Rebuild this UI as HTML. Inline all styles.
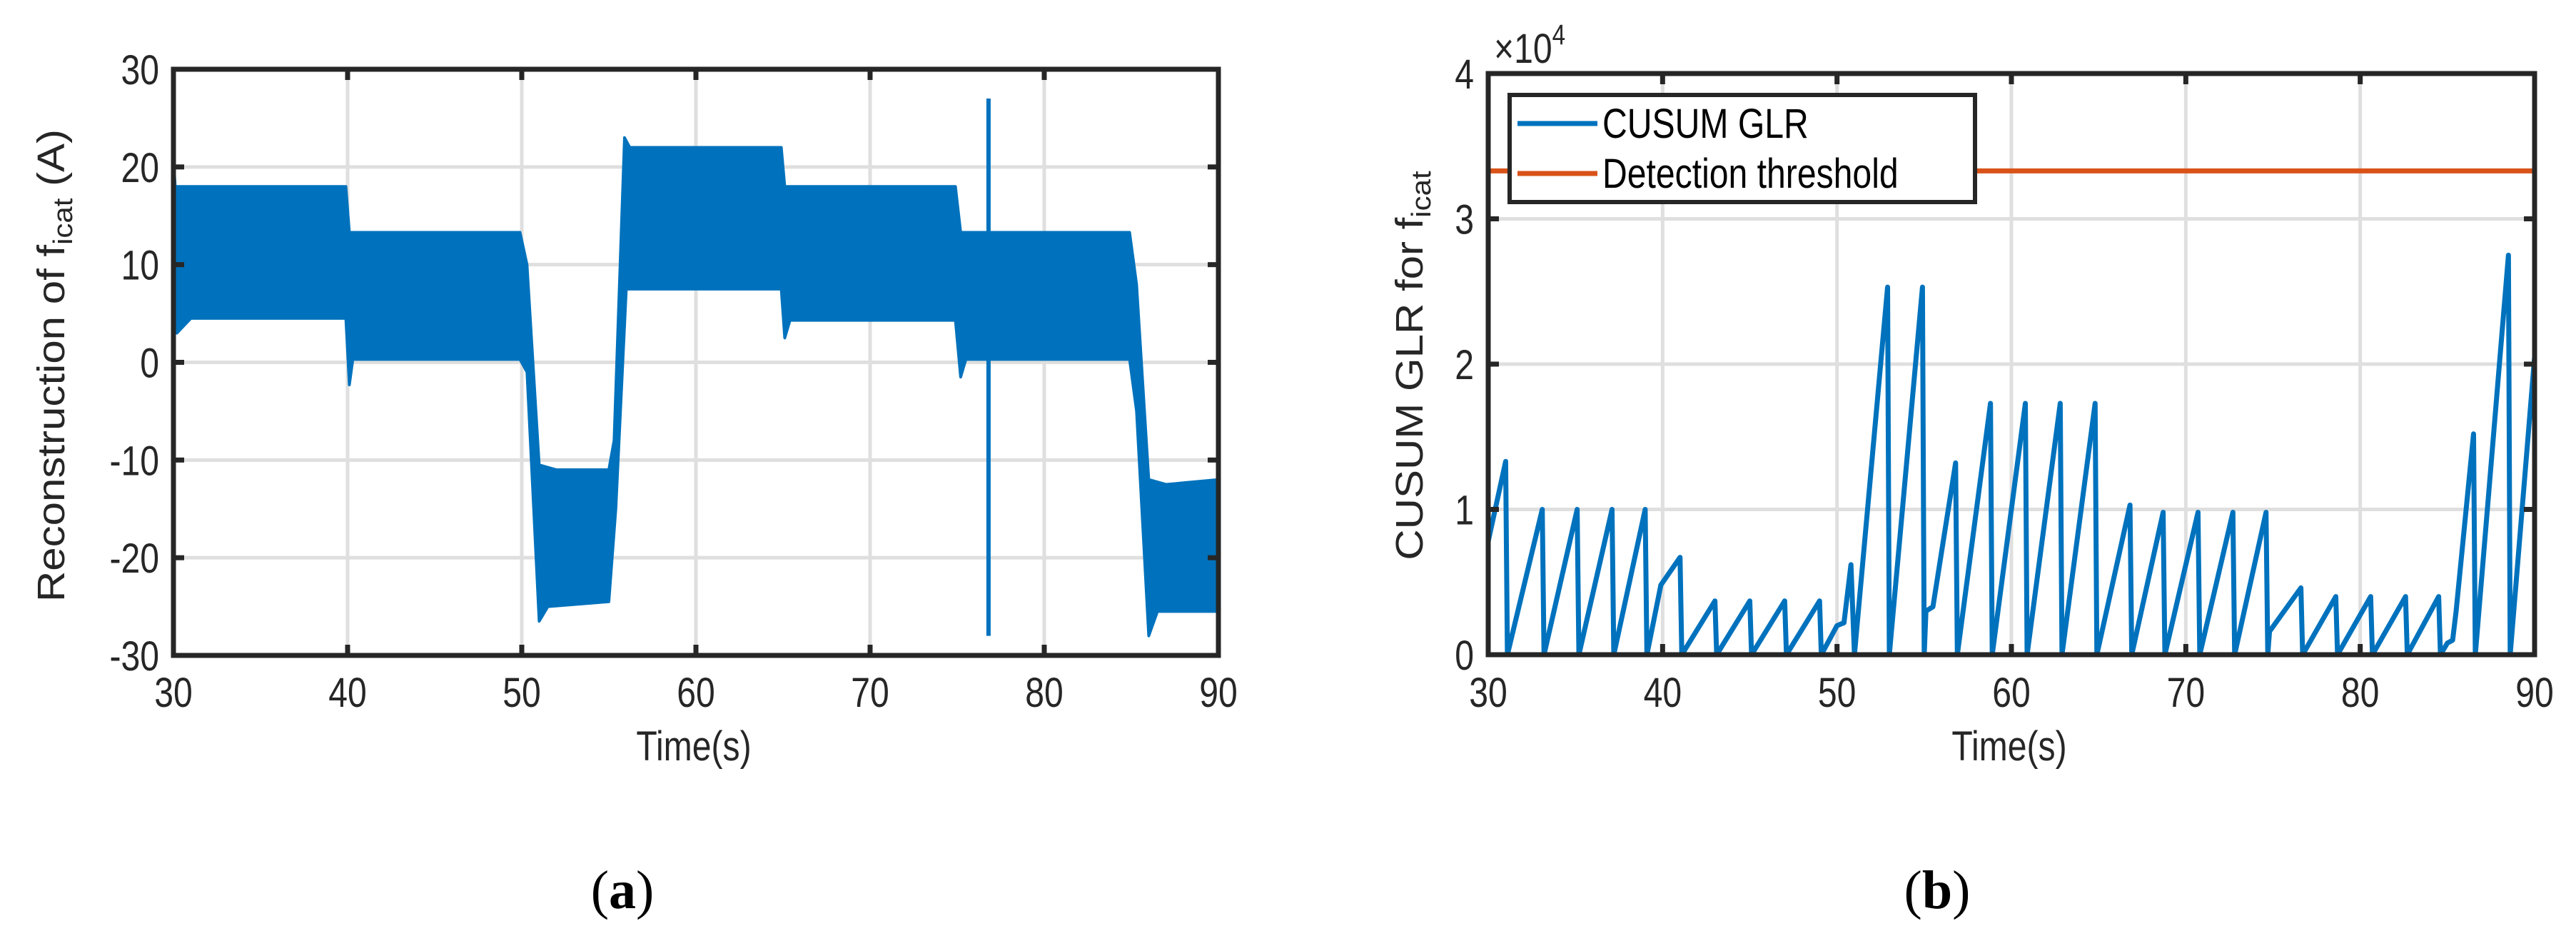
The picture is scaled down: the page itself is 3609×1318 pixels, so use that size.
<!DOCTYPE html>
<html><head><meta charset="utf-8"><style>
html,body{margin:0;padding:0;background:#fff}
svg{display:block}
text{font-family:"Liberation Sans",Arial,sans-serif;fill:#262626}
</style></head><body>
<svg id="fig" width="3609" height="1318" viewBox="0 0 3609 1318" xmlns="http://www.w3.org/2000/svg">
<g id="chartA"></g>
<g id="chartB"></g>
<text x="872" y="1272" font-family="Liberation Serif, serif" font-size="76" text-anchor="middle" style="font-family:'Liberation Serif',serif;fill:#000">(<tspan font-weight="bold">a</tspan>)</text>
<text x="2714" y="1272" font-size="76" text-anchor="middle" style="font-family:'Liberation Serif',serif;fill:#000">(<tspan font-weight="bold">b</tspan>)</text>
</svg>
<script>
// ---- Chart A data ----
const xTicks = [30,40,50,60,70,80,90];
const aYTicks = [-30,-20,-10,0,10,20,30];
const upperT = [30,30.1,39.9,40.1,49.9,50.3,51,52,55,55.3,55.9,56.2,64.9,65.1,74.9,75.2,84.9,85.3,86,87,90];
const upperV = [21,18,18,13.3,13.3,10,-10.5,-11,-11,-8,23,22,22,18,18,13.3,13.3,8,-12,-12.5,-12];
const lowerT = [30,30.2,31,39.9,40.1,40.3,49.9,50.3,51,51.5,55,55.4,56,56.2,64.9,65.1,65.4,74.9,75.2,75.5,84.9,85.3,86,86.5,90];
const lowerV = [3,3,4.5,4.5,-2.3,0.3,0.3,-1,-26.5,-25,-24.5,-15,7.5,7.5,7.5,2.5,4.3,4.3,-1.5,0.3,0.3,-5,-28,-25.5,-25.5];
const spikeT = [76.8];
const spikeTop = [27];
const spikeBot = [-28];
// ---- Chart B data ----
const bYTicks = [0,1,2,3,4];
const glrT = [30,31,31.1,33.1,33.2,35.1,35.2,37.1,37.2,39,39.1,39.9,41,41.1,43,43.1,45,45.1,47,47.1,49,49.1,50,50.4,50.8,51,52.9,53,54.9,55,55.1,55.5,56.8,56.9,58.8,58.9,60.8,60.9,62.8,62.9,64.8,64.9,66.8,66.9,68.7,68.8,70.7,70.8,72.7,72.8,74.6,74.7,74.8,76.6,76.7,78.6,78.7,80.6,80.7,82.6,82.7,84.5,84.6,85,85.3,85.5,86.5,86.6,88.5,88.6,90];
const glrV = [0.78,1.33,0,1.0,0,1.0,0,1.0,0,1.0,0,0.48,0.67,0,0.37,0,0.37,0,0.37,0,0.37,0,0.2,0.22,0.62,0,2.53,0,2.53,0,0.3,0.33,1.32,0,1.73,0,1.73,0,1.73,0,1.73,0,1.03,0,0.98,0,0.98,0,0.98,0,0.98,0,0.16,0.46,0,0.4,0,0.4,0,0.4,0,0.4,0,0.08,0.1,0.3,1.52,0,2.75,0,2.05];
const threshold = [3.33];

const NS='http://www.w3.org/2000/svg';
function mk(parent,tag,attrs,txt){const e=document.createElementNS(NS,tag);for(const k in attrs)e.setAttribute(k,attrs[k]);if(txt!==undefined)e.textContent=txt;parent.appendChild(e);return e;}
const AX='#262626', GRID='#dfdfdf', BLUE='#0072bd', ORANGE='#d95319';

function axes(g,L,T,R,B,xmin,xmax,ymin,ymax,yt,ytLabels){
  const sx=v=>L+(v-xmin)/(xmax-xmin)*(R-L);
  const sy=v=>B-(v-ymin)/(ymax-ymin)*(B-T);
  xTicks.forEach(v=>{const l=mk(g,'line',{x1:sx(v),x2:sx(v),y1:T,y2:B,stroke:GRID,'stroke-width':5});
    
    });
  yt.forEach(v=>{const l=mk(g,'line',{x1:L,x2:R,y1:sy(v),y2:sy(v),stroke:GRID,'stroke-width':5});
    
    });
  return {sx,sy};
}
function frame(g,L,T,R,B,sx,sy,yt,ytLabels){
  mk(g,'rect',{x:L,y:T,width:R-L,height:B-T,fill:'none',stroke:AX,'stroke-width':7});
  xTicks.forEach(v=>{
    mk(g,'line',{x1:sx(v),x2:sx(v),y1:B,y2:B-15,stroke:AX,'stroke-width':7});
    mk(g,'line',{x1:sx(v),x2:sx(v),y1:T,y2:T+15,stroke:AX,'stroke-width':7});
    const t=mk(g,'text',{transform:`translate(${sx(v)},990) scale(0.83,1)`,'font-size':58,'text-anchor':'middle'},String(v));
    
    
  });
  yt.forEach((v,i)=>{
    mk(g,'line',{x1:L,x2:L+15,y1:sy(v),y2:sy(v),stroke:AX,'stroke-width':7});
    mk(g,'line',{x1:R,x2:R-15,y1:sy(v),y2:sy(v),stroke:AX,'stroke-width':7});
    const t=mk(g,'text',{transform:`translate(${L-20},${sy(v)+21}) scale(0.83,1)`,'font-size':58,'text-anchor':'end'},ytLabels[i]);
    
    
  });
}

// Chart A
(function(){
  const g=document.getElementById('chartA');
  const L=243,T=97,R=1707,B=918;
  const {sx,sy}=axes(g,L,T,R,B,30,90,-30,30,aYTicks);
  let d='M'+upperT.map((t,i)=>sx(t)+','+sy(upperV[i])).join(' L');
  for(let i=lowerT.length-1;i>=0;i--) d+=' L'+sx(lowerT[i])+','+sy(lowerV[i]);
  d+=' Z';
  const band=mk(g,'path',{d:d,fill:BLUE,stroke:BLUE,'stroke-width':4,'stroke-linejoin':'round'});
  
  
  spikeT.forEach((t,i)=>{const s=mk(g,'line',{x1:sx(t),x2:sx(t),y1:sy(spikeTop[i]),y2:sy(spikeBot[i]),stroke:BLUE,'stroke-width':6});
    
    });
  frame(g,L,T,R,B,sx,sy,aYTicks,aYTicks.map(String));
  const yl=mk(g,'text',{transform:'translate(90,512) rotate(-90) scale(1,0.9)','font-size':60,'text-anchor':'middle'});
  yl.innerHTML='Reconstruction of f<tspan font-size="42" dy="12">icat</tspan><tspan dy="-12"> (A)</tspan>';
  
  
  const xl=mk(g,'text',{transform:'translate(972,1065) scale(0.83,1)','font-size':58,'text-anchor':'middle'},'Time(s)');
  
  
})();

// Chart B
(function(){
  const g=document.getElementById('chartB');
  const L=2085,T=103,R=3551,B=917;
  const {sx,sy}=axes(g,L,T,R,B,30,90,0,4,bYTicks);
  const th=mk(g,'line',{x1:L,x2:R,y1:sy(threshold[0]),y2:sy(threshold[0]),stroke:ORANGE,'stroke-width':7});
  
  
  const p=mk(g,'polyline',{points:glrT.map((t,i)=>sx(t)+','+sy(glrV[i])).join(' '),fill:'none',stroke:BLUE,'stroke-width':7,'stroke-linejoin':'round'});
  
  
  frame(g,L,T,R,B,sx,sy,bYTicks,bYTicks.map(String));
  const ex=mk(g,'text',{transform:'translate(2093,88) scale(0.83,1)','font-size':58});
  ex.innerHTML='×10<tspan font-size="40" dy="-26">4</tspan>';
  
  
  // legend
  const lg=mk(g,'g',{});
  
  
  mk(lg,'rect',{x:2115,y:133,width:652,height:150,fill:'#fff',stroke:AX,'stroke-width':6});
  const e1=mk(lg,'g',{});
  
  
  mk(e1,'line',{x1:2126,x2:2238,y1:173,y2:173,stroke:BLUE,'stroke-width':7});
  mk(e1,'text',{transform:'translate(2245,193) scale(0.83,1)','font-size':58,style:'fill:#000'},'CUSUM GLR');
  const e2=mk(lg,'g',{});
  
  
  mk(e2,'line',{x1:2126,x2:2238,y1:243,y2:243,stroke:ORANGE,'stroke-width':7});
  mk(e2,'text',{transform:'translate(2245,263) scale(0.83,1)','font-size':58,style:'fill:#000'},'Detection threshold');
  const yl=mk(g,'text',{transform:'translate(1993,512) rotate(-90) scale(1,0.9)','font-size':60,'text-anchor':'middle'});
  yl.innerHTML='CUSUM GLR for f<tspan font-size="42" dy="12">icat</tspan>';
  
  
  const xl=mk(g,'text',{transform:'translate(2815,1065) scale(0.83,1)','font-size':58,'text-anchor':'middle'},'Time(s)');
  
  
})();
</script>
</body></html>
